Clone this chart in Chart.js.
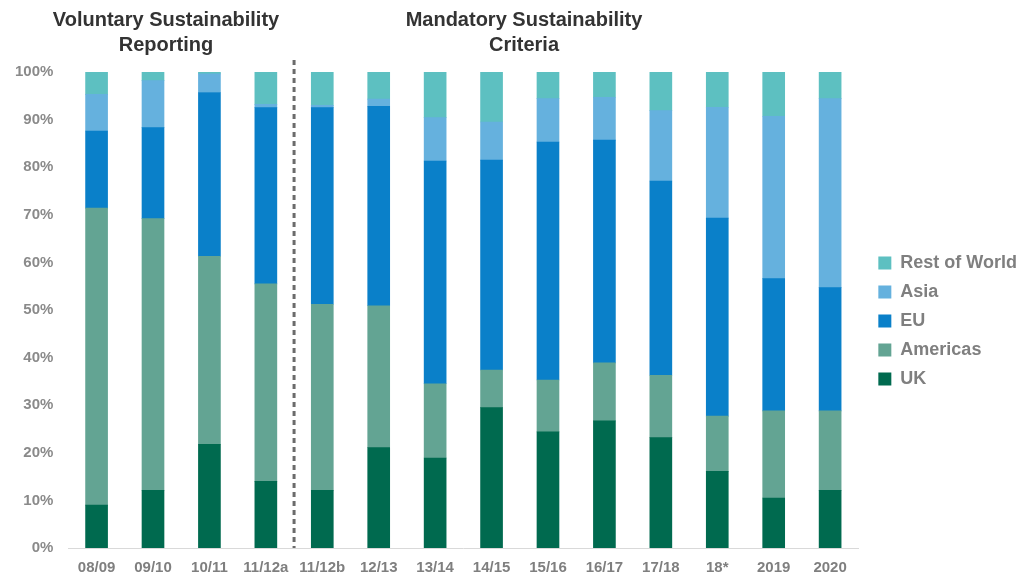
<!DOCTYPE html>
<html lang="en">
<head>
<meta charset="UTF-8">
<title>Sustainability Reporting by Region</title>
<script src="https://cdn.jsdelivr.net/npm/chart.js"></script>
<style>
    html, body { margin: 0; padding: 0; background: #fff; }
    .wrap { width: 1024px; height: 576px; position: relative; }
</style>
</head>
<body>
<div class="wrap">
    <canvas id="chart" width="1024" height="576"></canvas>
</div>
<script>
    // categories and shares (% of total)
    const categories = ['08/09', '09/10', '10/11', '11/12a', '11/12b', '12/13', '13/14', '14/15', '15/16', '16/17', '17/18', '18*', '2019', '2020'];
    const uk        = [9.0, 12.1, 21.8, 14.0, 12.1, 21.1, 18.9, 29.5, 24.4, 26.7, 23.2, 16.1, 10.5, 12.1];
    const americas  = [62.4, 57.1, 39.5, 41.5, 39.1, 29.8, 15.6, 7.9, 10.9, 12.2, 13.1, 11.6, 18.3, 16.7];
    const eu        = [16.2, 19.1, 34.4, 37.0, 41.3, 41.9, 46.8, 44.1, 50.0, 46.8, 40.8, 41.6, 27.8, 25.9];
    const asia      = [7.7, 9.9, 3.9, 0.7, 0.5, 1.5, 9.1, 8.0, 9.1, 9.0, 14.8, 23.3, 34.1, 39.7];
    const restWorld = [4.7, 1.8, 0.4, 6.8, 7.0, 5.7, 9.6, 10.5, 5.6, 5.3, 8.1, 7.4, 9.3, 5.6];
    const yTicks = [0, 10, 20, 30, 40, 50, 60, 70, 80, 90, 100];

    const colors = {
        uk: '#006a4f',
        americas: '#63a493',
        eu: '#0a80c9',
        asia: '#65b1de',
        row: '#5dc0c1'
    };

    // section headings + dashed divider between 11/12a and 11/12b
    const sectionPlugin = {
        id: 'sections',
        afterLayout(chart) {
            // nudge legend right/up to where it sits in the original
            const lg = chart.legend;
            if (lg) {
                lg.left += 9; lg.right += 9;
                lg.top -= 9; lg.bottom -= 9;
            }
        },
        afterDraw(chart) {
            const ctx = chart.ctx;
            const x = chart.scales.x;
            const area = chart.chartArea;
            const divX = (x.getPixelForValue(3) + x.getPixelForValue(4)) / 2;

            ctx.save();
            ctx.strokeStyle = '#6b6b6b';
            ctx.lineWidth = 3;
            ctx.setLineDash([5, 4]);
            ctx.beginPath();
            ctx.moveTo(divX, 60);
            ctx.lineTo(divX, area.bottom);
            ctx.stroke();
            ctx.setLineDash([]);

            ctx.fillStyle = '#333';
            ctx.font = 'bold 20px "Liberation Sans", Arial, sans-serif';
            ctx.textAlign = 'center';
            ctx.textBaseline = 'middle';
            ctx.fillText('Voluntary Sustainability', 166, 20);
            ctx.fillText('Reporting', 166, 45);
            ctx.fillText('Mandatory Sustainability', 524, 20);
            ctx.fillText('Criteria', 524, 45);
            ctx.restore();
        }
    };

    const ds = (label, data, color) => ({
        label: label,
        data: data,
        backgroundColor: color,
        borderWidth: 0,
        barThickness: 22
    });

    new Chart(document.getElementById('chart').getContext('2d'), {
        type: 'bar',
        data: {
            labels: categories,
            datasets: [
                ds('UK', uk, colors.uk),
                ds('Americas', americas, colors.americas),
                ds('EU', eu, colors.eu),
                ds('Asia', asia, colors.asia),
                ds('Rest of World', restWorld, colors.row)
            ]
        },
        options: {
            responsive: false,
            animation: false,
            layout: { padding: { top: 72, left: 0, right: 6, bottom: -12 } },
            scales: {
                x: {
                    stacked: true,
                    grid: { display: false, drawTicks: false },
                    border: { display: true, color: '#d9d9d9', width: 1 },
                    ticks: {
                        color: '#7f7f7f',
                        padding: 11,
                        maxRotation: 0,
                        autoSkip: false,
                        font: { family: '"Liberation Sans", Arial, sans-serif', size: 15, weight: 'bold' }
                    }
                },
                y: {
                    stacked: true,
                    min: 0,
                    max: 100,
                    afterBuildTicks(scale) { scale.ticks = yTicks.map(v => ({ value: v })); },
                    grid: { display: false, drawTicks: false },
                    border: { display: false },
                    ticks: {
                        color: '#8a8a8a',
                        padding: 15,
                        callback: v => v + '%',
                        font: { family: '"Liberation Sans", Arial, sans-serif', size: 15, weight: 'bold' }
                    }
                }
            },
            plugins: {
                legend: {
                    position: 'right',
                    reverse: true,
                    labels: {
                        boxWidth: 13,
                        boxHeight: 13,
                        padding: 11,
                        color: '#7f7f7f',
                        font: { family: '"Liberation Sans", Arial, sans-serif', size: 18, weight: 'bold' }
                    }
                },
                tooltip: { enabled: false }
            }
        },
        plugins: [sectionPlugin]
    });
</script>
</body>
</html>
